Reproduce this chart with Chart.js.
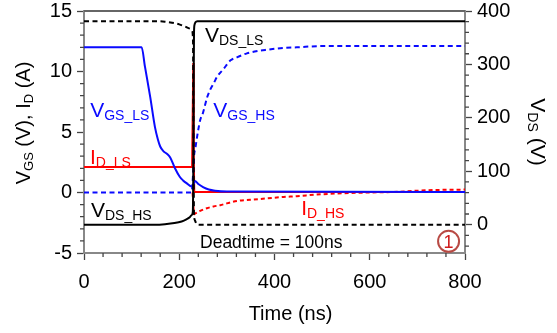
<!DOCTYPE html>
<html>
<head>
<meta charset="utf-8">
<script src="https://cdn.jsdelivr.net/npm/chart.js@4.4.0/dist/chart.umd.min.js"></script>
<style>
  html, body { margin: 0; padding: 0; background: #fff; }
</style>
</head>
<body>
<canvas id="chart" width="557" height="333"></canvas>
<script>
// ── Datos ────────────────────────────────────────────
const xTicks = [0, 200, 400, 600, 800];
const yTicks = [-5, 0, 5, 10, 15];
const y2Ticks = [0, 100, 200, 300, 400];

// V_DS_LS (línea negra continua, eje derecho)
const tDsLs = [0, 150, 170, 190, 205, 215, 222, 226, 228.5, 229.5, 230, 230.5, 231, 232, 234, 238, 800];
const vDsLs = [0, 0, 1, 3, 6, 10, 14, 18, 24, 100, 200, 300, 360, 374, 379, 381, 381];

// V_DS_HS (línea negra discontinua, eje derecho)
const tDsHs = [0, 150, 170, 185, 200, 212, 222, 227, 229, 229.5, 230, 230.5, 231, 233, 236, 242, 800];
const vDsHs = [381, 381, 380, 378, 375, 371, 367, 363, 340, 250, 150, 60, 20, 8, 2, 0, 0];

// V_GS_LS (azul continua)
const tGsLs = [0, 121, 128, 139, 149, 155, 160, 167, 174, 181, 191, 201, 208, 216, 226, 230, 233, 240, 250, 262, 275, 300, 800];
const vGsLs = [12, 12, 10.4, 7.9, 5.4, 4.4, 3.8, 3.4, 3.2, 2.9, 2.0, 1.3, 1.0, 0.75, 0.5, 0.7, 0.95, 0.7, 0.45, 0.25, 0.15, 0.08, 0.05];

// V_GS_HS (azul discontinua)
const tGsHs = [0, 225, 227, 229, 231, 234, 237, 240, 244, 250, 258, 265, 272, 280, 293, 307, 320, 342, 365, 384, 420, 447, 500, 800];
const vGsHs = [0, 0, 0.3, 1.5, 3.0, 3.7, 4.5, 5.2, 6.0, 6.6, 7.8, 8.5, 9.0, 9.6, 10.2, 10.9, 11.15, 11.5, 11.7, 11.8, 11.95, 12.0, 12.1, 12.1];

// I_D_LS (roja continua)
const tIdLs = [0, 227, 228.5, 229.5, 230.5, 231.5, 800];
const vIdLs = [2.1, 2.1, 2.1, 10.7, 3, 0.05, 0.05];

// I_D_HS (roja discontinua, visible desde la conmutación)
const tIdHs = [228, 229.5, 231, 233, 245, 258, 272, 286, 300, 321, 349, 380, 419, 447, 489, 530, 559, 600, 649, 700, 750, 800];
const vIdHs = [0, -1.0, -1.8, -1.75, -1.5, -1.3, -1.15, -1.05, -0.9, -0.7, -0.6, -0.5, -0.37, -0.3, -0.17, -0.08, -0.04, 0, 0.04, 0.15, 0.22, 0.24];

const FONT = '"Liberation Sans", Arial, sans-serif';
const BLUE = '#0a0aff';
const RED = '#ff0000';

const pts = (ts, vs) => ts.map((t, i) => ({ x: t, y: vs[i] }));

// ── Texto con subíndices ─────────────────────────────
function richText(ctx, x, y, parts, center) {
    let w = 0;
    parts.forEach(p => { ctx.font = p[1] + 'px ' + FONT; w += ctx.measureText(p[0]).width; });
    let cx = center ? x - w / 2 : x;
    parts.forEach(p => {
        ctx.font = p[1] + 'px ' + FONT;
        ctx.fillText(p[0], cx, y + (p[2] || 0));
        cx += ctx.measureText(p[0]).width;
    });
}

const notes = [
    { t: 13, v: 6.24, color: BLUE, parts: [['V', 21], ['GS_LS', 14, 3]] },
    { t: 12.6, v: 2.39, color: RED, parts: [['I', 21], ['D_LS', 14, 3]] },
    { t: 14.7, v: -2.02, color: '#000', parts: [['V', 21], ['DS_HS', 14, 3]] },
    { t: 254, v: 12.44, color: '#000', parts: [['V', 21], ['DS_LS', 14, 3]] },
    { t: 271.5, v: 6.2, color: BLUE, parts: [['V', 21], ['GS_HS', 14, 3]] },
    { t: 456, v: -1.88, color: RED, parts: [['I', 21], ['D_HS', 14, 3]] },
    { t: 243.6, v: -4.62, color: '#000', parts: [['Deadtime = 100ns', 17.5]] },
];

// ── Marcas menores, borde superior, textos ───────────
const extras = {
    id: 'extras',
    afterDraw(chart) {
        const { ctx, chartArea: a, scales } = chart;
        ctx.save();
        ctx.strokeStyle = '#444';
        ctx.lineWidth = 1.3;
        ctx.beginPath();
        for (let v = 0; v <= 800; v += 40) {
            if (v % 200 === 0) continue;
            const px = scales.x.getPixelForValue(v);
            ctx.moveTo(px, a.bottom); ctx.lineTo(px, a.bottom + 4);
        }
        for (let v = -5; v <= 15; v++) {
            if (v % 5 === 0) continue;
            const py = scales.y.getPixelForValue(v);
            ctx.moveTo(a.left, py); ctx.lineTo(a.left - 4, py);
        }
        for (let v = -40; v <= 400; v += 20) {
            if (v % 100 === 0) continue;
            const py = scales.y2.getPixelForValue(v);
            ctx.moveTo(a.right, py); ctx.lineTo(a.right + 4, py);
        }
        ctx.stroke();

        // borde superior
        ctx.strokeStyle = '#666';
        ctx.lineWidth = 2;
        ctx.beginPath();
        ctx.moveTo(a.left, a.top); ctx.lineTo(a.right, a.top);
        ctx.stroke();

        ctx.textBaseline = 'alphabetic';
        ctx.textAlign = 'left';
        notes.forEach(n => {
            ctx.fillStyle = n.color;
            richText(ctx, scales.x.getPixelForValue(n.t), scales.y.getPixelForValue(n.v), n.parts);
        });

        // círculo con "1"
        const cx = scales.x.getPixelForValue(765.5), cy = scales.y.getPixelForValue(-4.03);
        ctx.strokeStyle = '#b84a44';
        ctx.lineWidth = 2;
        ctx.beginPath(); ctx.arc(cx, cy, 10.5, 0, Math.PI * 2); ctx.stroke();
        ctx.fillStyle = '#d01c1c';
        ctx.font = '18px ' + FONT;
        ctx.textAlign = 'center';
        ctx.fillText('1', cx, cy + 6.5);

        // títulos de ejes
        ctx.fillStyle = '#000';
        ctx.textAlign = 'left';
        richText(ctx, 290.5, 320, [['Time (ns)', 20]], true);

        ctx.save();
        ctx.translate(30, 123);
        ctx.rotate(-Math.PI / 2);
        richText(ctx, 0, 0, [['V', 20], ['GS', 13, 3], [' (V), I', 20], ['D', 13, 3], [' (A)', 20]], true);
        ctx.restore();

        ctx.save();
        ctx.translate(531, 132);
        ctx.rotate(Math.PI / 2);
        richText(ctx, 0, 0, [['V', 21], ['DS', 14, 3], [' (V)', 21]], true);
        ctx.restore();

        ctx.restore();
    }
};

const tickFont = { family: FONT, size: 20 };
const axisGrid = { drawOnChartArea: false, tickLength: 7, tickColor: '#444', tickWidth: 1.3 };
const axisBorder = { color: '#888', width: 2 };
const noPad = s => { s.paddingTop = 0; s.paddingBottom = 0; s.paddingLeft = 0; s.paddingRight = 0; };

new Chart(document.getElementById('chart'), {
    type: 'line',
    data: {
        datasets: [
            { data: pts(tDsLs, vDsLs), yAxisID: 'y2', borderColor: '#000', borderWidth: 2, cubicInterpolationMode: 'monotone' },
            { data: pts(tDsHs, vDsHs), yAxisID: 'y2', borderColor: '#000', borderWidth: 2, borderDash: [5, 3.5], cubicInterpolationMode: 'monotone' },
            { data: pts(tGsLs, vGsLs), yAxisID: 'y', borderColor: BLUE, borderWidth: 2, cubicInterpolationMode: 'monotone' },
            { data: pts(tGsHs, vGsHs), yAxisID: 'y', borderColor: BLUE, borderWidth: 2, borderDash: [5, 3.5], cubicInterpolationMode: 'monotone' },
            { data: pts(tIdLs, vIdLs), yAxisID: 'y', borderColor: RED, borderWidth: 2 },
            { data: pts(tIdHs, vIdHs), yAxisID: 'y', borderColor: RED, borderWidth: 2, borderDash: [4, 3], cubicInterpolationMode: 'monotone' },
        ]
    },
    options: {
        responsive: false, animation: false,
        layout: { padding: { top: 11, left: 0, right: 0, bottom: 0 } },
        elements: { point: { radius: 0 } },
        plugins: { legend: { display: false }, tooltip: { enabled: false } },
        scales: {
            x: {
                type: 'linear', min: 0, max: 800,
                afterBuildTicks: s => { s.ticks = xTicks.map(v => ({ value: v })); },
                ticks: { font: tickFont, color: '#000', padding: 10, maxRotation: 0 },
                grid: axisGrid, border: axisBorder,
                afterFit: s => { s.height = 80; noPad(s); }
            },
            y: {
                position: 'left', min: -5, max: 15,
                afterBuildTicks: s => { s.ticks = yTicks.map(v => ({ value: v })); },
                ticks: { font: tickFont, color: '#000', padding: 5 },
                grid: axisGrid, border: axisBorder,
                afterFit: s => { s.width = 84; noPad(s); }
            },
            y2: {
                position: 'right', min: -53, max: 400,
                afterBuildTicks: s => { s.ticks = y2Ticks.map(v => ({ value: v })); },
                ticks: { font: tickFont, color: '#000', padding: 5 },
                grid: axisGrid, border: axisBorder,
                afterFit: s => { s.width = 92; noPad(s); }
            }
        }
    },
    plugins: [extras]
});
</script>
</body>
</html>
